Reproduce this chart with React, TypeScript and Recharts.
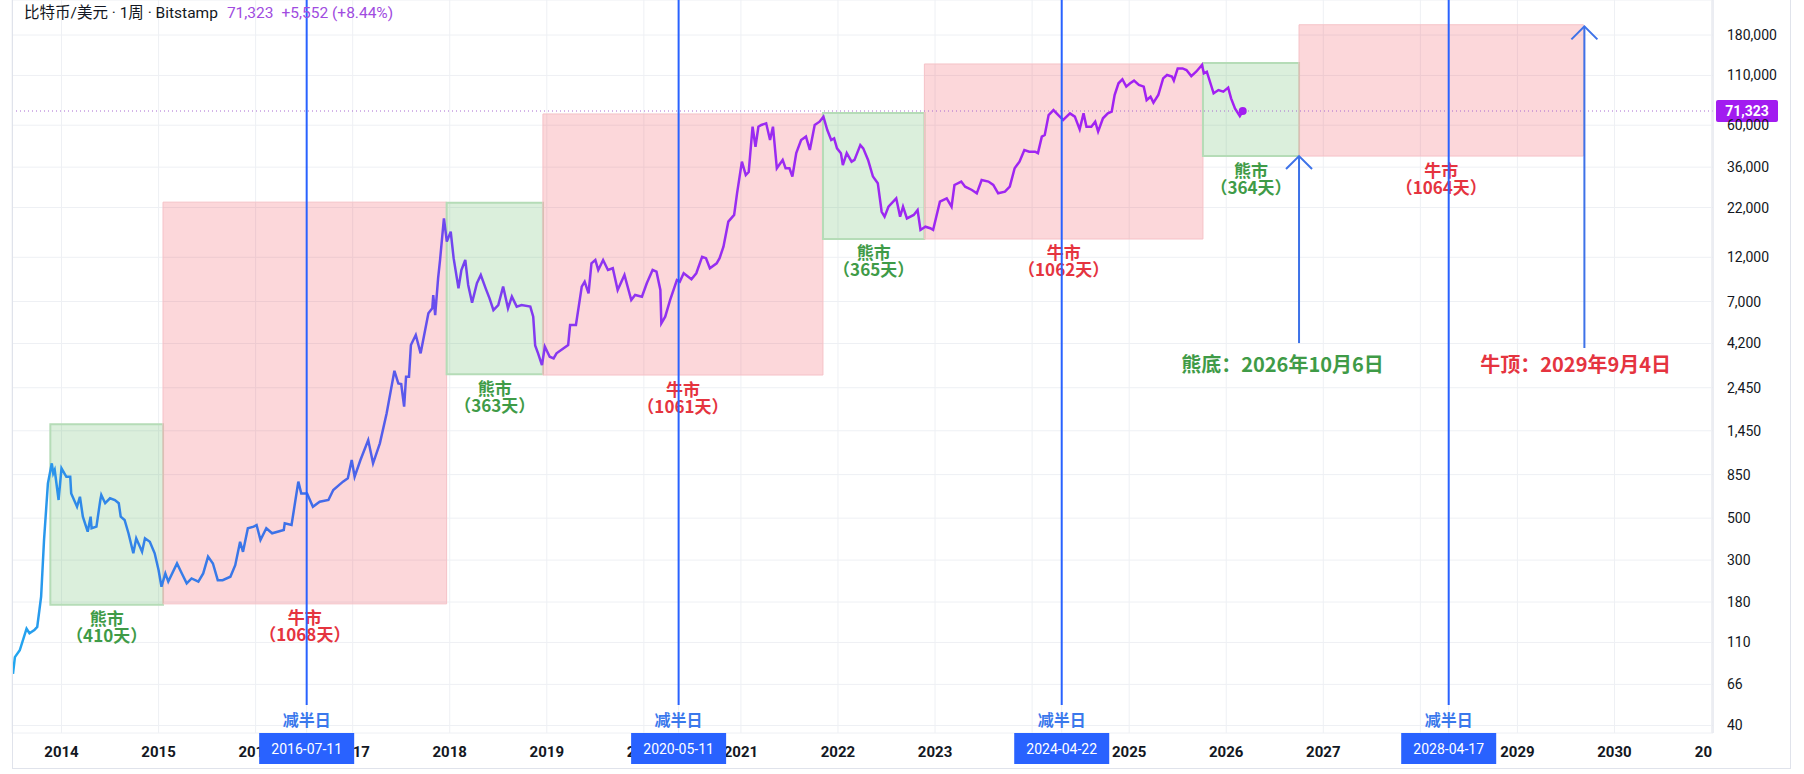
import React from "react";
import {
  CartesianGrid,
  Line,
  LineChart,
  ReferenceArea,
  ReferenceDot,
  ReferenceLine,
  XAxis,
  YAxis,
} from "recharts";

// weekly closes, decimal year -> USD
const weekTimes = [
  2013.5, 2013.52, 2013.57, 2013.64, 2013.67, 2013.72, 2013.75, 2013.79, 2013.82, 2013.86,
  2013.9, 2013.915, 2013.93, 2013.97, 2014.0, 2014.05, 2014.09, 2014.1, 2014.16, 2014.19,
  2014.22, 2014.27, 2014.3, 2014.31, 2014.36, 2014.4, 2014.41, 2014.45, 2014.5, 2014.55,
  2014.59, 2014.61, 2014.65, 2014.69, 2014.74, 2014.77, 2014.83, 2014.86, 2014.91, 2014.96,
  2015.0, 2015.03, 2015.07, 2015.1, 2015.19, 2015.24, 2015.29, 2015.34, 2015.41, 2015.46,
  2015.51, 2015.56, 2015.61, 2015.66, 2015.74, 2015.79, 2015.84, 2015.87, 2015.92, 2015.98,
  2016.01, 2016.05, 2016.11, 2016.17, 2016.29, 2016.3, 2016.37, 2016.44, 2016.47, 2016.53,
  2016.59, 2016.66, 2016.75, 2016.8, 2016.9, 2016.95, 2016.99, 2017.02, 2017.08, 2017.16,
  2017.21, 2017.28, 2017.35, 2017.43, 2017.47, 2017.5, 2017.53, 2017.55, 2017.58, 2017.6,
  2017.65, 2017.7, 2017.78, 2017.82, 2017.83, 2017.85, 2017.88, 2017.9, 2017.94, 2017.97,
  2018.01, 2018.04, 2018.09, 2018.12, 2018.16, 2018.19, 2018.23, 2018.28, 2018.32, 2018.37,
  2018.41, 2018.45, 2018.5, 2018.55, 2018.6, 2018.64, 2018.69, 2018.74, 2018.83, 2018.86,
  2018.88, 2018.91, 2018.95, 2018.98, 2019.03, 2019.07, 2019.1, 2019.22, 2019.24, 2019.3,
  2019.36, 2019.39, 2019.43, 2019.46, 2019.5, 2019.53, 2019.58, 2019.63, 2019.68, 2019.73,
  2019.8, 2019.87, 2019.91, 2019.98, 2020.03, 2020.09, 2020.13, 2020.17, 2020.18, 2020.22,
  2020.27, 2020.34, 2020.37, 2020.41, 2020.49, 2020.54, 2020.6, 2020.64, 2020.68, 2020.75,
  2020.78, 2020.82, 2020.87, 2020.93, 2020.96, 2021.01, 2021.05, 2021.08, 2021.12, 2021.15,
  2021.18, 2021.21, 2021.26, 2021.3, 2021.33, 2021.37, 2021.43, 2021.46, 2021.5, 2021.53,
  2021.57, 2021.62, 2021.67, 2021.71, 2021.76, 2021.81, 2021.85, 2021.89, 2021.93, 2021.96,
  2021.99, 2022.03, 2022.05, 2022.09, 2022.14, 2022.17, 2022.23, 2022.26, 2022.31, 2022.36,
  2022.41, 2022.45, 2022.48, 2022.52, 2022.6, 2022.64, 2022.67, 2022.71, 2022.78, 2022.82,
  2022.85, 2022.9, 2022.95, 2022.98, 2023.05, 2023.12, 2023.17, 2023.2, 2023.27, 2023.31,
  2023.38, 2023.43, 2023.48, 2023.55, 2023.6, 2023.65, 2023.72, 2023.77, 2023.82, 2023.87,
  2023.92, 2023.97, 2024.03, 2024.06, 2024.1, 2024.13, 2024.17, 2024.22, 2024.27, 2024.32,
  2024.39, 2024.44, 2024.49, 2024.53, 2024.56, 2024.61, 2024.65, 2024.68, 2024.73, 2024.78,
  2024.82, 2024.85, 2024.89, 2024.93, 2024.97, 2025.01, 2025.05, 2025.1, 2025.15, 2025.18,
  2025.22, 2025.25, 2025.3, 2025.35, 2025.39, 2025.44, 2025.46, 2025.5, 2025.55, 2025.59,
  2025.64, 2025.69, 2025.75, 2025.77, 2025.8, 2025.87, 2025.92, 2025.97, 2026.02, 2026.05,
  2026.09, 2026.14, 2026.17,
];

const closePrices = [
  75, 92, 100, 130, 123, 128, 133, 192, 383, 764,
  975, 863, 899, 624, 918, 828, 828, 676, 575, 649,
  509, 424, 509, 442, 451, 624, 663, 600, 637, 624,
  600, 509, 489, 416, 326, 391, 332, 391, 375, 326,
  266, 217, 255, 231, 288, 255, 226, 240, 231, 255,
  313, 288, 235, 235, 245, 282, 375, 332, 442, 451,
  460, 383, 442, 416, 433, 470, 460, 780, 676, 676,
  575, 611, 624, 705, 780, 813, 1016, 828, 1016, 1295,
  975, 1245, 1795, 3013, 2582, 2563, 1945, 2800, 2800, 4120,
  4656, 3725, 6070, 6450, 7580, 5940, 9290, 11610, 19280, 14520,
  16400, 11870, 8225, 10280, 11610, 8570, 6900, 8750, 9670, 8225,
  7280, 6310, 6710, 8400, 6450, 7430, 6580, 6710, 6580, 5825,
  4100, 3725, 3230, 4040, 3575, 3505, 3725, 4120, 5265, 5265,
  8400, 8920, 7740, 11150, 11610, 10280, 11610, 10280, 10500, 8060,
  9670, 7130, 7580, 7430, 8750, 10280, 10070, 8060, 5370, 5825,
  7130, 9100, 8920, 9880, 9180, 9880, 12080, 11870, 10500, 11150,
  11870, 13650, 18520, 20110, 26170, 38470, 32670, 33900, 58900, 46170,
  58900, 60150, 61400, 50120, 58900, 35500, 39300, 35500, 35500, 32100,
  42680, 50120, 52200, 44370, 60150, 62620, 66590, 56600, 50120, 51150,
  45250, 42680, 36900, 42680, 38470, 39300, 47100, 45250, 39300, 32100,
  29600, 20900, 19670, 22230, 24610, 19670, 22230, 19280, 20110, 21330,
  16750, 17420, 17100, 16750, 23650, 24610, 22230, 28970, 30200, 28380,
  27250, 26170, 30770, 30200, 28970, 26170, 26690, 28380, 35500, 38470,
  44370, 43480, 43480, 42680, 52200, 53250, 67900, 72140, 67900, 63970,
  69300, 66590, 57050, 69300, 58900, 58900, 62620, 55500, 65300, 69300,
  70800, 86700, 100000, 105000, 96000, 100000, 103300, 97900, 96000, 81500,
  84900, 79000, 86700, 106100, 110600, 108500, 103300, 119900, 119900, 117500,
  109100, 115100, 124900, 112800, 115100, 88500, 92100, 90300, 94800, 83200,
  73650, 67080, 71323,
];

const yearTicks = [2014, 2015, 2016, 2017, 2018, 2019, 2020, 2021, 2022, 2023, 2024, 2025, 2026, 2027, 2028, 2029, 2030, 2031];
const priceTicks = [40, 66, 110, 180, 300, 500, 850, 1450, 2450, 4200, 7000, 12000, 22000, 36000, 60000, 110000, 180000];

// cycle boxes
const phaseStart = [2013.885, 2015.046, 2017.968, 2018.96, 2021.845, 2022.89, 2025.76, 2026.75];
const phaseEnd = [2015.046, 2017.968, 2018.96, 2021.845, 2022.89, 2025.76, 2026.75, 2029.68];
const phaseLow = [174, 176, 2890, 2860, 15000, 15000, 41200, 41200];
const phaseHigh = [1570, 23500, 23300, 68800, 69600, 126500, 128000, 204000];
const phaseBull = [false, true, false, true, false, true, false, true];
const phaseDays = [410, 1068, 363, 1061, 365, 1062, 364, 1064];

const halvingTimes = [2016.526, 2020.358, 2024.305, 2028.292];
const halvingDates = ["2016-07-11", "2020-05-11", "2024-04-22", "2028-04-17"];

const arrowTimes = [2026.75, 2029.69];
const arrowFrom = [4220, 3970];
const arrowTo = [41200, 200000];
const noteTimes = [2026.58, 2029.6];
const notePrice = 3310;
const noteTexts = ["熊底：2026年10月6日", "牛顶：2029年9月4日"];
const noteBull = [false, true];

const W = 1804;
const H = 774;
const Y_AXIS_W = 91;
const X_AXIS_H = 41;
const PLOT_RIGHT = W - Y_AXIS_W;
const PLOT_BOTTOM = H - X_AXIS_H;

const CJK = '"Noto Sans CJK SC", sans-serif';
const NUM = 'Roboto, "Noto Sans CJK SC", sans-serif';
const GREEN = "#3f9b47";
const RED = "#e5343f";
const BLUE = "#2962ff";
const PURPLE = "#a21cf0";

const data = weekTimes.map((t, i) => ({ t, price: closePrices[i] }));
const lastIdx = weekTimes.length - 1;
// halving date tags go last so they paint over the year labels
const timeTicks = [...yearTicks, ...halvingTimes];

const fmt = (v: number) => v.toLocaleString("en-US");

function XTick(p: any) {
  const v = p.payload.value;
  const h = halvingTimes.indexOf(v);
  if (h >= 0) {
    return (
      <g>
        <rect x={p.x - 47.5} y={PLOT_BOTTOM} width={95} height={31} fill={BLUE} />
        <text x={p.x} y={PLOT_BOTTOM + 15.5} textAnchor="middle" dominantBaseline="central" fontFamily={NUM} fontSize={14} fill="#ffffff">
          {halvingDates[h]}
        </text>
      </g>
    );
  }
  const label = String(v);
  const cut = p.x + 17 > PLOT_RIGHT;
  return (
    <text
      x={cut ? PLOT_RIGHT - 1 : p.x}
      y={p.y}
      textAnchor={cut ? "end" : "middle"}
      dominantBaseline="central"
      fontFamily={NUM}
      fontSize={15}
      fontWeight={700}
      fill="#131722"
    >
      {cut ? label.slice(0, 2) : label}
    </text>
  );
}

function YTick(p: any) {
  return (
    <text x={p.x} y={p.y} dominantBaseline="central" fontFamily={NUM} fontSize={14} fill="#131722">
      {fmt(p.payload.value)}
    </text>
  );
}

const phaseLabel = (bull: boolean, days: number) => (p: any) => {
  const vb = p.viewBox;
  const cx = vb.x + vb.width / 2;
  const by = vb.y + vb.height;
  const c = bull ? RED : GREEN;
  return (
    <g fontFamily={CJK} fontSize={17} fontWeight={700} fill={c} textAnchor="middle">
      <text x={cx} y={by + 13} dominantBaseline="central">{bull ? "牛市" : "熊市"}</text>
      <text x={cx} y={by + 30} dominantBaseline="central">{`（${days}天）`}</text>
    </g>
  );
};

const halvingLabel = (p: any) => (
  <text
    x={p.viewBox.x}
    y={719}
    textAnchor="middle"
    dominantBaseline="central"
    fontFamily={CJK}
    fontSize={16}
    fontWeight={700}
    fill="#3a78ec"
  >
    减半日
  </text>
);

const arrowShape = (p: any) => {
  const x = p.x1;
  const top = Math.min(p.y1, p.y2);
  const bot = Math.max(p.y1, p.y2);
  return (
    <g stroke="#3d72e8" strokeWidth={2} fill="none">
      <line x1={x} y1={bot} x2={x} y2={top} />
      <polyline points={`${x - 13},${top + 13} ${x},${top} ${x + 13},${top + 13}`} />
    </g>
  );
};

const noteLabel = (text: string, bull: boolean) => (p: any) => {
  const vb = p.viewBox;
  return (
    <text
      x={vb.x + vb.width / 2}
      y={vb.y + vb.height / 2}
      textAnchor="middle"
      dominantBaseline="central"
      fontFamily={CJK}
      fontSize={20}
      fontWeight={700}
      fill={bull ? RED : GREEN}
    >
      {text}
    </text>
  );
};

const priceTag = (p: any) => {
  const vb = p.viewBox;
  const x = vb.x + vb.width + 3;
  const y = vb.y;
  return (
    <g>
      <rect x={x} y={y - 11} width={62} height={22} rx={2} fill={PURPLE} />
      <text x={x + 31} y={y} textAnchor="middle" dominantBaseline="central" fontFamily={NUM} fontSize={14} fontWeight={700} fill="#ffffff">
        {fmt(closePrices[lastIdx])}
      </text>
    </g>
  );
};

export default function App() {
  return (
    <div style={{ position: "absolute", left: 0, top: 0, width: W, height: H, background: "#ffffff" }}>
      <LineChart width={W} height={H} data={data} margin={{ top: 0, right: 0, bottom: 0, left: 12 }}>
        <defs>
          <linearGradient id="btcLine" x1="0" y1="0" x2="1" y2="0">
            <stop offset="0" stopColor="#22a7f0" />
            <stop offset="0.05" stopColor="#2f8ae8" />
            <stop offset="0.24" stopColor="#3f6ee8" />
            <stop offset="0.32" stopColor="#5a58ec" />
            <stop offset="0.36" stopColor="#7344ef" />
            <stop offset="0.45" stopColor="#8a36f0" />
            <stop offset="0.6" stopColor="#9a2cf1" />
            <stop offset="1" stopColor="#a31ff2" />
          </linearGradient>
        </defs>
        <CartesianGrid stroke="#eef0f4" />
        <XAxis
          dataKey="t"
          type="number"
          domain={[2013.49, 2031.015]}
          allowDataOverflow
          ticks={timeTicks}
          interval={0}
          height={X_AXIS_H}
          axisLine={false}
          tickLine={false}
          tickSize={0}
          tickMargin={19}
          tick={(p: any) => <XTick {...p} />}
        />
        <YAxis
          orientation="right"
          type="number"
          scale="log"
          domain={[36.5, 275800]}
          allowDataOverflow
          ticks={priceTicks}
          interval={0}
          width={Y_AXIS_W}
          axisLine={{ stroke: "#e0e3eb" }}
          tickLine={false}
          tickSize={0}
          tickMargin={14}
          tick={(p: any) => <YTick {...p} />}
        />
        {phaseStart.map((s, i) => (
          <ReferenceArea
            key={`ph${i}`}
            x1={s}
            x2={phaseEnd[i]}
            y1={phaseLow[i]}
            y2={phaseHigh[i]}
            ifOverflow="visible"
            fill={phaseBull[i] ? "#f23645" : "#4caf50"}
            fillOpacity={0.2}
            stroke={phaseBull[i] ? "#f5c2c7" : "#b5dcb7"}
            strokeWidth={phaseBull[i] ? 1 : 2}
            label={phaseLabel(phaseBull[i], phaseDays[i])}
          />
        ))}
        <ReferenceLine
          y={closePrices[lastIdx]}
          stroke="#a86bd0"
          strokeDasharray="1 3"
          strokeWidth={1}
          ifOverflow="visible"
          label={priceTag}
        />
        <Line
          dataKey="price"
          type="linear"
          stroke="url(#btcLine)"
          strokeWidth={2.5}
          dot={false}
          activeDot={false}
          isAnimationActive={false}
        />
        {halvingTimes.map((t, i) => (
          <ReferenceLine
            key={`hv${i}`}
            segment={[{ x: t, y: 51.3 }, { x: t, y: 275800 }]}
            stroke={BLUE}
            strokeWidth={2}
            ifOverflow="visible"
            label={halvingLabel}
          />
        ))}
        {arrowTimes.map((t, i) => (
          <ReferenceLine
            key={`ar${i}`}
            segment={[{ x: t, y: arrowFrom[i] }, { x: t, y: arrowTo[i] }]}
            ifOverflow="visible"
            shape={arrowShape}
          />
        ))}
        {noteTimes.map((t, i) => (
          <ReferenceDot
            key={`nt${i}`}
            x={t}
            y={notePrice}
            r={1}
            fill="none"
            stroke="none"
            ifOverflow="visible"
            label={noteLabel(noteTexts[i], noteBull[i])}
          />
        ))}
        <ReferenceDot
          x={weekTimes[lastIdx]}
          y={closePrices[lastIdx]}
          r={4}
          fill={PURPLE}
          stroke="none"
          ifOverflow="visible"
        />
      </LineChart>
      <div
        style={{
          position: "absolute",
          left: 12,
          top: 0,
          width: 1779,
          height: 769,
          boxSizing: "border-box",
          borderLeft: "1px solid #e0e3eb",
          borderRight: "1px solid #e0e3eb",
          borderBottom: "1px solid #e0e3eb",
          pointerEvents: "none",
        }}
      />
      <div
        style={{
          position: "absolute",
          left: 24,
          top: 3,
          fontFamily: NUM,
          fontSize: 15.5,
          lineHeight: "20px",
          color: "#131722",
          whiteSpace: "nowrap",
        }}
      >
        比特币/美元 · 1周 · Bitstamp
        <span style={{ color: "#a04be0", marginLeft: 9 }}>71,323</span>
        <span style={{ color: "#a04be0", marginLeft: 8 }}>+5,552 (+8.44%)</span>
      </div>
    </div>
  );
}
